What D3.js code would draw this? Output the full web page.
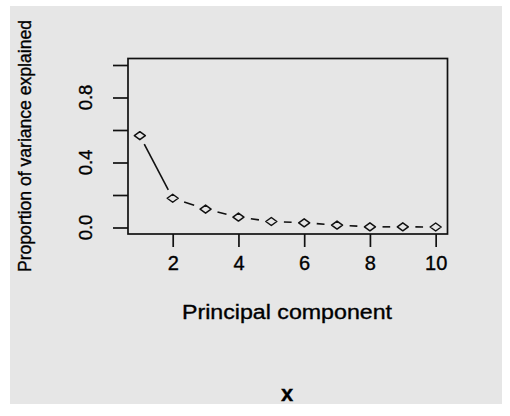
<!DOCTYPE html>
<html lang="en">
<head>
	<meta charset="UTF-8">
	<title>Scree plot</title>
	<script src="https://d3js.org/d3.v7.min.js"></script>
	<style>
		body { margin: 0; background: #ffffff; }
		text { font-family: "Liberation Sans", Arial, sans-serif; fill: #000; stroke: #000; stroke-width: 0.35px; }
	</style>
</head>
<body>

	<svg width="510" height="416"></svg>

	<script>

		// values
		var components = [1, 2, 3, 4, 5, 6, 7, 8, 9, 10];
		var variance = [0.565, 0.18, 0.113, 0.064, 0.037, 0.029, 0.015, 0.004, 0.004, 0.003];
		var xTicks = [2, 4, 6, 8, 10];
		var yTicks = [0, 0.2, 0.4, 0.6, 0.8, 1.0];
		var yTickLabels = ["0.0", "", "0.4", "", "0.8", ""];

		var svg = d3.select("svg");

		// grey panel behind everything
		svg.append("rect")
			.attr("x", 10)
			.attr("y", 6)
			.attr("width", 492)
			.attr("height", 398)
			.attr("fill", "#e6e6e6");

		// R style 4% padding on both axes
		var xScale = d3.scaleLinear()
			.domain([0.64, 10.36])
			.range([128, 447.5]);

		var yScale = d3.scaleLinear()
			.domain([-0.04, 1.04])
			.range([234, 58.5]);

		// box
		svg.append("rect")
			.attr("x", xScale.range()[0])
			.attr("y", yScale.range()[1])
			.attr("width", xScale.range()[1] - xScale.range()[0])
			.attr("height", yScale.range()[0] - yScale.range()[1])
			.attr("fill", "none")
			.attr("stroke", "#111")
			.attr("stroke-width", 1.7);

		// x axis
		var xAxis = svg.append("g")
			.attr("transform", "translate(0," + yScale.range()[0] + ")")
			.call(d3.axisBottom(xScale).tickValues(xTicks).tickSize(13).tickPadding(9).tickFormat(d3.format("d")));
		xAxis.select(".domain").remove();
		xAxis.selectAll("line").attr("stroke", "#111").attr("stroke-width", 1.7);
		xAxis.selectAll("text")
			.style("font-family", "'Liberation Sans', Arial, sans-serif")
			.style("font-size", "20px")
			.attr("fill", "#000");

		// y axis (labels turned like R's las = 0)
		var yAxis = svg.append("g")
			.attr("transform", "translate(" + xScale.range()[0] + ",0)")
			.call(d3.axisLeft(yScale).tickValues(yTicks).tickSize(15).tickFormat(""));
		yAxis.select(".domain").remove();
		yAxis.selectAll("line").attr("stroke", "#111").attr("stroke-width", 1.7);

		svg.selectAll(".ylab")
			.data(yTicks)
			.enter()
			.append("text")
			.attr("class", "ylab")
			.attr("text-anchor", "middle")
			.attr("transform", function(d) {
				return "translate(92," + yScale(d) + ") rotate(-90)";
			})
			.style("font-size", "18.5px")
			.text(function(d, i) { return yTickLabels[i]; });

		// line with gaps round the points (type = "b")
		var pts = components.map(function(c, i) {
			return [xScale(c), yScale(variance[i])];
		});
		var gap = 9, squash = 1.4;
		for (var i = 0; i < pts.length - 1; i++) {
			var a = pts[i], b = pts[i + 1];
			var dx = b[0] - a[0], dy = b[1] - a[1];
			var len = Math.sqrt((dx / squash) * (dx / squash) + dy * dy);
			var t = gap / len;
			if (2 * t >= 1) continue;
			svg.append("line")
				.attr("x1", a[0] + t * dx)
				.attr("y1", a[1] + t * dy)
				.attr("x2", b[0] - t * dx)
				.attr("y2", b[1] - t * dy)
				.attr("stroke", "#111")
				.attr("stroke-width", 1.6);
		}

		// open markers
		svg.selectAll(".pt")
			.data(components)
			.enter()
			.append("path")
			.attr("class", "pt")
			.attr("d", function(c, i) {
				var x = xScale(c), y = yScale(variance[i]);
				return "M" + (x - 5.5) + "," + y + "L" + x + "," + (y - 4) + "L" + (x + 5.5) + "," + y + "L" + x + "," + (y + 4) + "Z";
			})
			.attr("fill", "none")
			.attr("stroke", "#111")
			.attr("stroke-width", 1.5)
			.attr("stroke-linejoin", "round");

		// axis titles
		svg.append("text")
			.attr("text-anchor", "middle")
			.attr("transform", "translate(31,146) rotate(-90)")
			.attr("textLength", 252)
			.attr("lengthAdjust", "spacingAndGlyphs")
			.style("font-size", "18px")
			.text("Proportion of variance explained");

		svg.append("text")
			.attr("x", 287)
			.attr("y", 319)
			.attr("text-anchor", "middle")
			.attr("textLength", 210)
			.attr("lengthAdjust", "spacingAndGlyphs")
			.style("font-size", "20px")
			.text("Principal component");

		svg.append("text")
			.attr("x", 287)
			.attr("y", 401)
			.attr("text-anchor", "middle")
			.style("font-size", "22px")
			.style("font-weight", "bold")
			.text("x");

	</script>

</body>
</html>
